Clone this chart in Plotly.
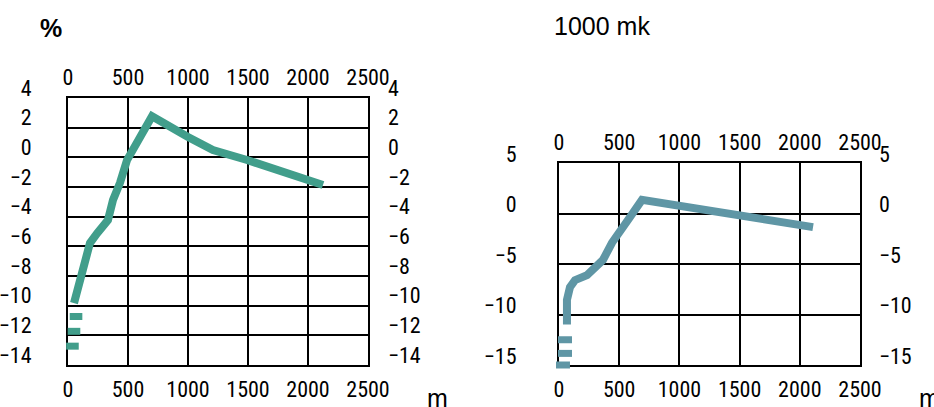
import plotly.graph_objects as go

# ---- data ----
x_ticks = [0, 500, 1000, 1500, 2000, 2500]

left_y_ticks = [4, 2, 0, -2, -4, -6, -8, -10, -12, -14]
left_tail_x = [37, 50, 67]
left_tail_y = [-12.73, -11.73, -10.73]
left_x = [50, 92, 142, 183, 242, 333, 375, 433, 492, 517, 558, 625, 700, 1000, 1208, 1492, 1767, 2125]
left_y = [-9.83, -8.48, -6.93, -5.78, -5.13, -4.23, -2.88, -1.73, -0.18, 0.17, 0.67, 1.64, 2.77, 1.37, 0.49, -0.18, -0.86, -1.87]

right_y_ticks = [5, 0, -5, -10, -15]
right_tail_x = [33, 50, 50]
right_tail_y = [-15.0, -13.85, -12.5]
right_x = [66, 66, 91, 133, 233, 316, 365, 440, 507, 573, 689, 855, 1047, 1279, 1561, 1836, 2110]
right_y = [-11.0, -8.55, -7.3, -6.6, -6.1, -5.3, -4.6, -2.9, -1.6, -0.65, 1.35, 1.05, 0.55, 0.15, -0.35, -0.85, -1.35]

left_title = "%"
right_title = "1000 mk"
unit_label = "m"

# ---- style ----
W, H = 934, 407
LEFT_COLOR = "#419e8b"
RIGHT_COLOR = "#5f96a5"
TICK_FONT = dict(family="Liberation Sans Narrow, Arial Narrow, Roboto Condensed, DejaVu Sans Condensed, sans-serif",
                 size=22, color="#000")
TEXT_FONT = "Liberation Sans, Arial, sans-serif"

left_yrange = [-14, 4]
right_yrange = [-15, 5]
xrange_ = [0, 2500]


def px_x(p):
    return p / W


def px_y(p):
    return 1 - p / H


fig = go.Figure()

fig.add_trace(go.Scatter(x=left_x, y=left_y, mode="lines", xaxis="x", yaxis="y",
                         line=dict(color=LEFT_COLOR, width=8), showlegend=False))
fig.add_trace(go.Scatter(x=left_tail_x, y=left_tail_y, mode="markers", xaxis="x", yaxis="y",
                         marker=dict(symbol="line-ew", size=9, line=dict(color=LEFT_COLOR, width=7)),
                         cliponaxis=False, showlegend=False))
fig.add_trace(go.Scatter(x=right_x, y=right_y, mode="lines", xaxis="x3", yaxis="y3",
                         line=dict(color=RIGHT_COLOR, width=8), showlegend=False))
fig.add_trace(go.Scatter(x=right_tail_x, y=right_tail_y, mode="markers", xaxis="x3", yaxis="y3",
                         marker=dict(symbol="line-ew", size=10, line=dict(color=RIGHT_COLOR, width=7)),
                         cliponaxis=False, showlegend=False))

# invisible copies so that the label-only overlay axes (top x, right y) get drawn
for xa, ya, xs, ys in [("x2", "y2", left_x, left_y), ("x4", "y4", right_x, right_y)]:
    fig.add_trace(go.Scatter(x=xs, y=ys, mode="lines", xaxis=xa, yaxis=ya, opacity=0,
                             hoverinfo="skip", showlegend=False))

grid_common = dict(showgrid=True, gridcolor="#000", gridwidth=2, showline=True, mirror=True,
                   linecolor="#000", linewidth=2, zeroline=False, ticks="", automargin=False,
                   tickfont=TICK_FONT, layer="below traces")
label_common = dict(showgrid=False, showline=False, zeroline=False, ticks="", automargin=False,
                    tickfont=TICK_FONT)

lx = [px_x(68), px_x(368)]
ly = [px_y(365), px_y(98)]
rx = [px_x(559), px_x(860)]
ry = [px_y(365), px_y(163)]

fig.update_layout(
    width=W, height=H, template="none",
    margin=dict(l=0, r=0, t=0, b=0, autoexpand=False),
    paper_bgcolor="#fff", plot_bgcolor="#fff",
    # left chart
    xaxis=dict(domain=lx, anchor="y", range=xrange_, tickmode="array", tickvals=x_ticks,
               ticklabelstandoff=4, **grid_common),
    xaxis2=dict(overlaying="x", anchor="y", side="top", range=xrange_, tickmode="array",
                tickvals=x_ticks, ticklabelstandoff=8, **label_common),
    yaxis=dict(domain=ly, anchor="x", side="left", range=left_yrange, tickmode="array",
               tickvals=left_y_ticks, ticklabelstandoff=30, ticklabelshift=-10, **grid_common),
    yaxis2=dict(overlaying="y", anchor="x", side="right", range=left_yrange, tickmode="array",
                tickvals=left_y_ticks, ticklabelstandoff=19, ticklabelshift=-10, **label_common),
    # right chart
    xaxis3=dict(domain=rx, anchor="y3", range=xrange_, tickmode="array", tickvals=x_ticks,
                ticklabelstandoff=4, **grid_common),
    xaxis4=dict(overlaying="x3", anchor="y3", side="top", range=xrange_, tickmode="array",
                tickvals=x_ticks, ticklabelstandoff=8, **label_common),
    yaxis3=dict(domain=ry, anchor="x3", side="left", range=right_yrange, tickmode="array",
                tickvals=right_y_ticks, ticklabelstandoff=36, ticklabelshift=-9, **grid_common),
    yaxis4=dict(overlaying="y3", anchor="x3", side="right", range=right_yrange, tickmode="array",
                tickvals=right_y_ticks, ticklabelstandoff=18, ticklabelshift=-9, **label_common),
    annotations=[
        dict(text="<b>%s</b>" % left_title, x=px_x(51), y=px_y(28), xref="paper", yref="paper",
             xanchor="center", yanchor="middle", showarrow=False,
             font=dict(family=TEXT_FONT, size=25, color="#000")),
        dict(text=right_title, x=px_x(552), y=px_y(26), xref="paper", yref="paper",
             xanchor="left", yanchor="middle", showarrow=False,
             font=dict(family=TEXT_FONT, size=25, color="#000")),
        dict(text=unit_label, x=px_x(425), y=px_y(398), xref="paper", yref="paper",
             xanchor="left", yanchor="middle", showarrow=False,
             font=dict(family=TEXT_FONT, size=25, color="#000")),
        dict(text=unit_label, x=px_x(917), y=px_y(398), xref="paper", yref="paper",
             xanchor="left", yanchor="middle", showarrow=False,
             font=dict(family=TEXT_FONT, size=25, color="#000")),
    ],
)

fig.write_html("out.html", config={"displayModeBar": False},
               post_script="document.body.style.margin='0';document.body.style.overflow='hidden';")
